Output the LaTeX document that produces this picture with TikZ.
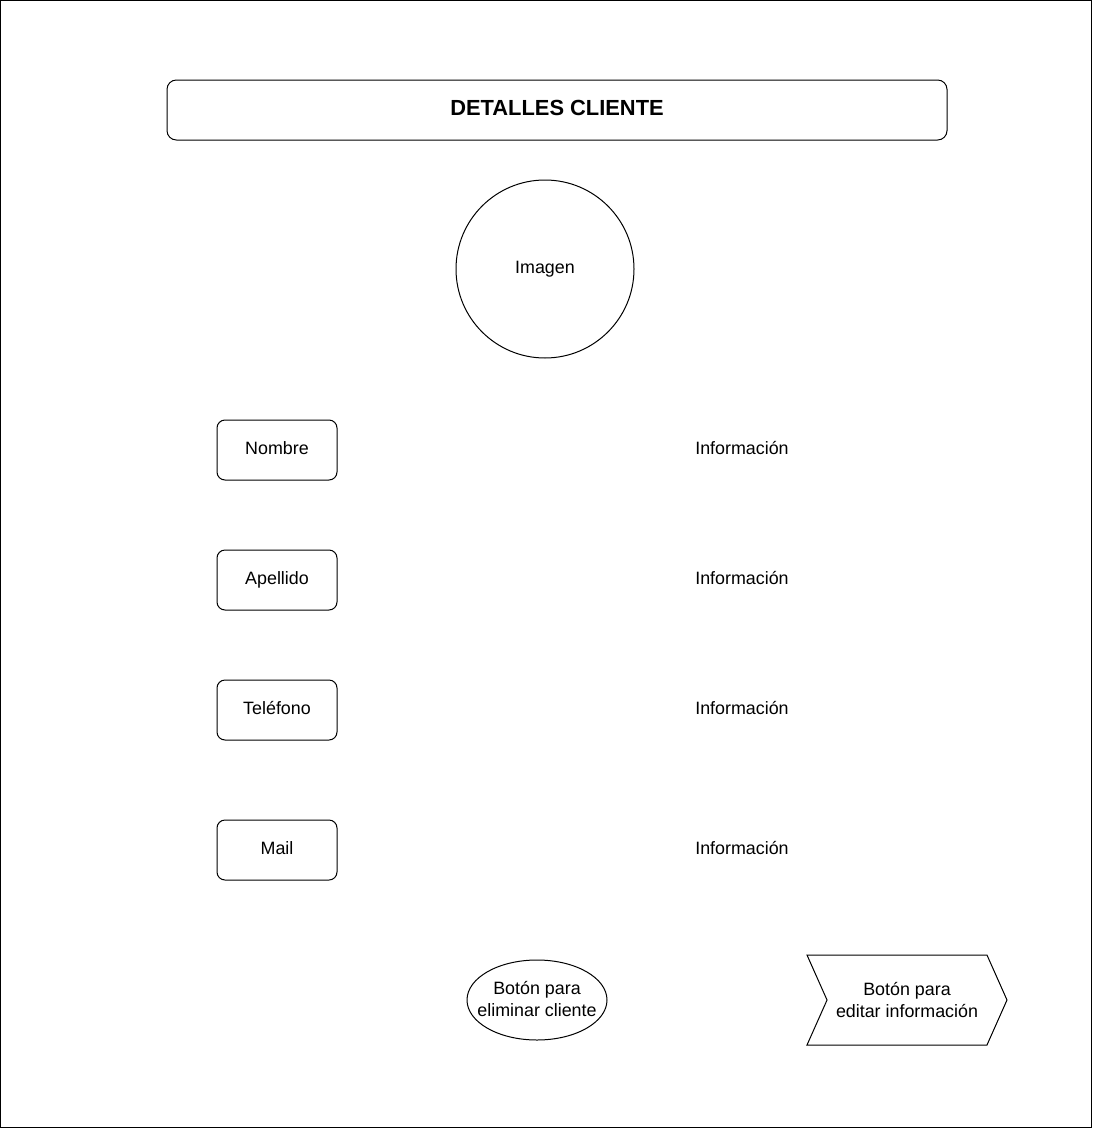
\documentclass[tikz,border=0pt]{standalone}
\usepackage{fontspec}
\setmainfont{Liberation Sans}
\usetikzlibrary{shapes.geometric,shapes.symbols}

\tikzset{
  texto/.style={font=\fontsize{13.4}{16}\selectfont, text height=9.7pt, text depth=2.8pt},
  campo/.style={texto, draw, rounded corners=6pt, minimum width=90pt, minimum height=45pt},
  info/.style={texto},
  boton/.style={align=center, font=\fontsize{13.4}{16.5}\selectfont, inner sep=0pt}
}

\begin{document}
\begin{tikzpicture}[x=0.75pt, y=-0.75pt, line width=0.75pt]
   \useasboundingbox (0,0) rectangle (1093,1128);
   \draw (0.5,0.5) rectangle (1091,1127);

   % cabecera
   \node[draw, rounded corners=7pt, minimum width=585pt, minimum height=45pt, font=\fontsize{16.4}{19}\selectfont\bfseries, text height=11.8pt, text depth=3.4pt] (titulo) at (557,110) {DETALLES CLIENTE};

   \node[texto, draw, circle, minimum size=133.5pt] (imagen) at (545,269) {Imagen};

   % campos
   \node[campo] (nombre) at (277,450) {Nombre};
   \node[info] (infonombre) at (742,450) {Información};

   \node[campo] (apellido) at (277,580) {Apellido};
   \node[info] (infoapellido) at (742,580) {Información};

   \node[campo] (telefono) at (277,710) {Teléfono};
   \node[info] (infotelefono) at (742,710) {Información};

   \node[campo] (mail) at (277,850) {Mail};
   \node[info] (infomail) at (742,850) {Información};

   % botones
   \node[boton] (eliminar) at (537,999) {Botón para\\eliminar cliente};
   \draw (537,1000) ellipse [x radius=52.5pt, y radius=30pt];
   \node[boton, draw, signal, signal from=west, signal to=east, signal pointer angle=132, minimum width=150pt, minimum height=67.5pt] (editar) at (907,1000) {Botón para\\editar información};
\end{tikzpicture}
\end{document}
